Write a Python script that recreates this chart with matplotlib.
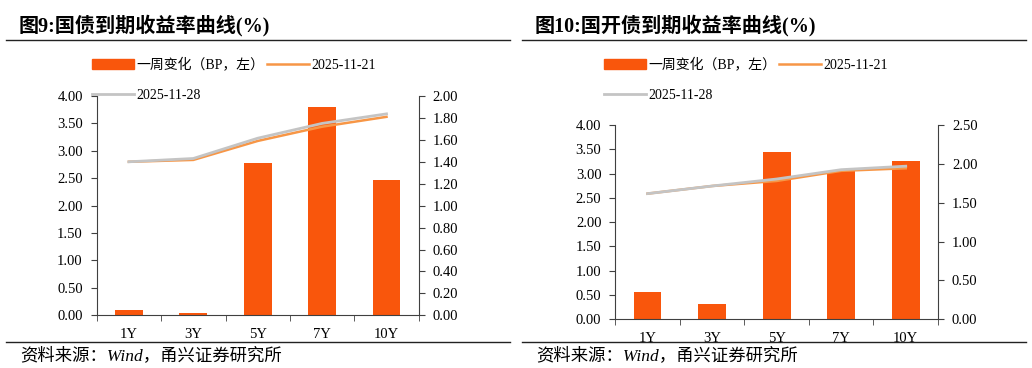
import numpy as np
import matplotlib
matplotlib.use('Agg')
import matplotlib.pyplot as plt
from matplotlib.patches import Patch
from matplotlib.lines import Line2D

plt.rcParams['font.family'] = ['Liberation Serif', 'Noto Sans CJK SC']
plt.rcParams['axes.unicode_minus'] = False

tenors = ['1Y', '3Y', '5Y', '7Y', '10Y']

# 图9 国债
gz_chg = [0.10, 0.04, 2.77, 3.80, 2.47]
gz_1121 = [1.40, 1.417, 1.59, 1.72, 1.81]
gz_1128 = [1.40, 1.43, 1.615, 1.75, 1.837]

# 图10 国开债
gk_chg = [0.56, 0.32, 3.44, 3.06, 3.26]
gk_1121 = [1.617, 1.715, 1.78, 1.91, 1.943]
gk_1128 = [1.617, 1.715, 1.805, 1.925, 1.97]

W, H = 1032, 368
bar_c = '#F9560C'
org_c = '#F79646'
gry_c = '#C4C4C4'
spine_c = '#404040'
cjk = ['Liberation Serif', 'Noto Sans CJK SC']

fig = plt.figure(figsize=(W / 100, H / 100), dpi=100)


def px(x0, y0, x1, y1):
    return [x0 / W, 1 - y1 / H, (x1 - x0) / W, (y1 - y0) / H]


def panel(x_off, title, box, chg, l21, l28, rmax, rstep, leg_x):
    # title + rules
    fig.text((x_off + 19) / W, 1 - 26 / H, title, fontsize=14.5, fontweight='bold',
             family=cjk, va='center', ha='left')
    fig.add_artist(Line2D([(x_off + 6) / W, (x_off + 510) / W], [1 - 39.5 / H] * 2,
                          color='#222222', lw=1.0))
    fig.add_artist(Line2D([(x_off + 6) / W, (x_off + 510) / W], [1 - 341.5 / H] * 2,
                          color='#222222', lw=1.0))
    fig.text((x_off + 20) / W, 1 - 356 / H, '资料来源：Wind，甬兴证券研究所', fontsize=12.5,
             family=cjk, style='italic', va='center', ha='left')

    ax = fig.add_axes(px(*box))
    x = np.arange(len(tenors))
    ax.bar(x, chg, width=0.43, color=bar_c, zorder=2)
    ax.set_xlim(-0.5, len(tenors) - 0.5)
    ax.set_ylim(0, 4)
    ax.set_yticks(np.arange(0, 4.01, 0.5))
    ax.set_yticklabels(['%.2f' % v for v in np.arange(0, 4.01, 0.5)])
    ax.set_xticks(x)
    ax.set_xticklabels(tenors)
    ax.set_xticks(np.arange(-0.5, len(tenors), 1.0), minor=True)
    ax.tick_params(axis='x', which='major', length=0, pad=9, labelsize=10.5)
    ax.tick_params(axis='x', which='minor', length=4, direction='out', color=spine_c)
    ax.tick_params(axis='y', length=4, direction='out', color=spine_c, labelsize=10.5, pad=6)
    for s in ['top', 'right']:
        ax.spines[s].set_visible(False)
    for s in ['left', 'bottom']:
        ax.spines[s].set_color(spine_c)

    ax2 = ax.twinx()
    ax2.plot(x, l21, color=org_c, lw=1.8, zorder=3)
    ax2.plot(x, l28, color=gry_c, lw=2.0, zorder=4)
    ax2.set_ylim(0, rmax)
    rt = np.arange(0, rmax + 1e-6, rstep)
    ax2.set_yticks(rt)
    ax2.set_yticklabels(['%.2f' % v for v in rt])
    ax2.tick_params(axis='y', length=4, direction='out', color=spine_c, labelsize=10.5, pad=6)
    for s in ['top', 'left', 'bottom']:
        ax2.spines[s].set_visible(False)
    ax2.spines['right'].set_color(spine_c)

    handles = [Patch(color=bar_c), Line2D([], [], color=gry_c, lw=2.0),
               Line2D([], [], color=org_c, lw=1.8)]
    labels = ['一周变化（BP，左）', '2025-11-28', '2025-11-21']
    fig.legend(handles, labels, loc='upper left', ncol=2, frameon=False,
               bbox_to_anchor=((x_off + leg_x) / W, 1 - 58 / H),
               prop={'family': cjk, 'size': 10}, handlelength=3.0, handleheight=0.8,
               handletextpad=0.2, columnspacing=0.2, labelspacing=1.2,
               borderaxespad=0, borderpad=0)


panel(0, '图9:国债到期收益率曲线(%)', (96.7, 96, 418.7, 315.3),
      gz_chg, gz_1121, gz_1128, 2.0, 0.2, 92)
panel(516, '图10:国开债到期收益率曲线(%)', (615.3, 125, 938, 319.3),
      gk_chg, gk_1121, gk_1128, 2.5, 0.5, 88)

fig.savefig('out.png', dpi=100)
